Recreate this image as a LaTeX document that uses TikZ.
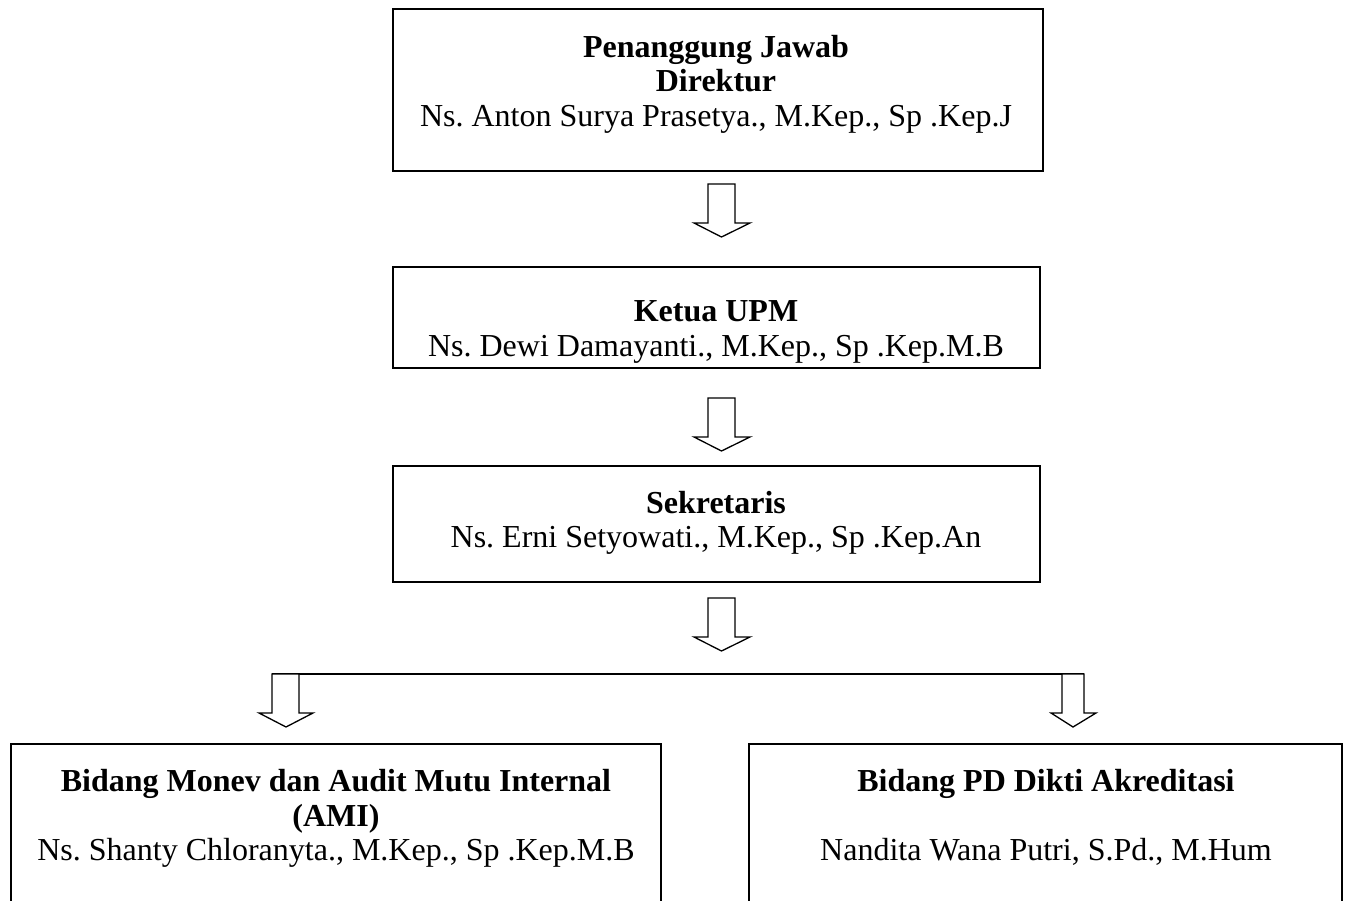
\documentclass[tikz,border=0pt]{standalone}
\usepackage{fontspec}
\setmainfont{Liberation Serif}
\frenchspacing
\begin{document}
\begin{tikzpicture}[x=1pt,y=-1pt,
  boxline/.style={draw=black,line width=1.6pt},
  blockarrow/.style={draw=black,line width=1.3pt,fill=white,line join=miter},
  txt/.style={anchor=base,inner sep=0pt,font=\fontsize{32}{35}\selectfont},
  btxt/.style={txt,font=\fontsize{32}{35}\selectfont\bfseries}]
\useasboundingbox (0,0) rectangle (1348,901);
% boxes
\draw[boxline] (393,9) rectangle (1043,171);
\draw[boxline] (393,267) rectangle (1040,368);
\draw[boxline] (393,466) rectangle (1040,582);
\draw[boxline] (11,906) -- (11,744) -- (661,744) -- (661,906);
\draw[boxline] (749,906) -- (749,744) -- (1342,744) -- (1342,906);
% texts
\node[btxt] (t1) at (716,58) {Penanggung Jawab};
\node[btxt] (t2) at (716,92) {Direktur};
\node[txt] (t3) at (716,127) {Ns. Anton Surya Prasetya., M.Kep., Sp .Kep.J};
\node[btxt] (k1) at (716,321) {Ketua UPM};
\node[txt] (k2) at (716,356) {Ns. Dewi Damayanti., M.Kep., Sp .Kep.M.B};
\node[btxt] (s1) at (716,513) {Sekretaris};
\node[txt] (s2) at (716,547) {Ns. Erni Setyowati., M.Kep., Sp .Kep.An};
\node[btxt] (b1) at (336,791) {Bidang Monev dan Audit Mutu Internal};
\node[btxt] (b2) at (336,826) {(AMI)};
\node[txt] (b3) at (336,860) {Ns. Shanty Chloranyta., M.Kep., Sp .Kep.M.B};
\node[btxt] (c1) at (1046,791) {Bidang PD Dikti Akreditasi};
\node[txt] (c2) at (1046,860) {Nandita Wana Putri, S.Pd., M.Hum};
% block arrows
\foreach \y in {184,398,598}{
  \draw[blockarrow] (708,\y) -- (735,\y) -- (735,\y+39) -- (750,\y+39) -- (721.5,\y+53) -- (694,\y+39) -- (708,\y+39) -- cycle;
}
% horizontal bar
\draw[black,line width=1.3pt] (272,674) -- (1084,674);
\draw[blockarrow] (272,674) -- (299,674) -- (299,713) -- (313,713) -- (286,727) -- (259,713) -- (272,713) -- cycle;
\draw[blockarrow] (1062,674) -- (1084,674) -- (1084,713) -- (1096,713) -- (1073,727) -- (1051,713) -- (1062,713) -- cycle;
\end{tikzpicture}
\end{document}
